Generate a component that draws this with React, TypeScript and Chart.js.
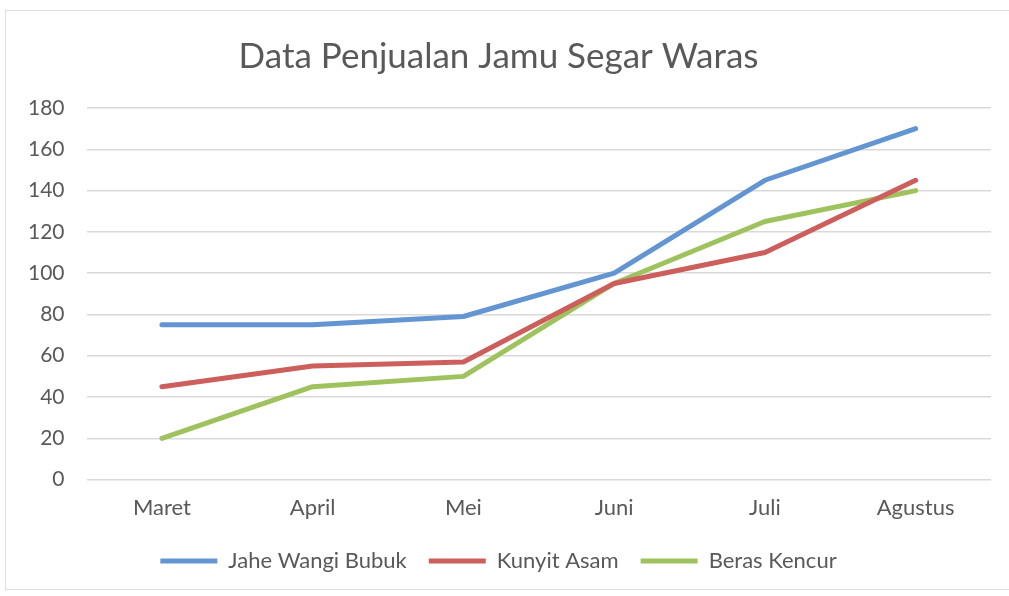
import React, { useEffect, useRef } from "react";
import { Chart, registerables } from "chart.js";

Chart.register(...registerables);

const months = ["Maret", "April", "Mei", "Juni", "Juli", "Agustus"];
const jaheWangiBubuk = [75, 75, 79, 100, 145, 170];
const kunyitAsam = [45, 55, 57, 95, 110, 145];
const berasKencur = [20, 45, 50, 95, 125, 140];
const yTicks = [0, 20, 40, 60, 80, 100, 120, 140, 160, 180];

const FONT = "Lato, 'Open Sans', sans-serif";

export default function App() {
  const ref = useRef<HTMLCanvasElement>(null);
  useEffect(() => {
    document.body.style.margin = "0";
    const ctx = ref.current!;
    const chart = new Chart(ctx, {
      type: "line",
      data: {
        labels: months,
        datasets: [
          { label: "Jahe Wangi Bubuk", data: jaheWangiBubuk, borderColor: "#6395d2", backgroundColor: "#6395d2" },
          { label: "Kunyit Asam", data: kunyitAsam, borderColor: "#cc5f5c", backgroundColor: "#cc5f5c" },
          { label: "Beras Kencur", data: berasKencur, borderColor: "#9ec25e", backgroundColor: "#9ec25e" },
        ].map((d) => ({ ...d, borderWidth: 5, pointRadius: 0, tension: 0, borderCapStyle: "round" as const, borderJoinStyle: "round" as const })),
      },
      options: {
        animation: false,
        responsive: false,
        layout: { padding: { left: 6, right: 18, top: 22, bottom: 14 } },
        plugins: {
          title: {
            display: true,
            text: "Data Penjualan Jamu Segar Waras",
            color: "#595959",
            font: { family: FONT, size: 35, weight: "normal" },
            padding: { top: 14, bottom: 30 },
          },
          legend: {
            position: "bottom",
            labels: {
              color: "#595959",
              font: { family: FONT, size: 22 },
              boxWidth: 57,
              boxHeight: 5,
              padding: 22,
              generateLabels: (c) =>
                c.data.datasets.map((ds, i) => ({
                  text: ds.label as string,
                  fillStyle: ds.borderColor as string,
                  strokeStyle: ds.borderColor as string,
                  lineWidth: 0,
                  datasetIndex: i,
                  fontColor: "#595959",
                })),
            },
          },
          tooltip: { enabled: false },
        },
        scales: {
          x: {
            offset: true,
            grid: { display: false },
            border: { display: false },
            ticks: { color: "#595959", font: { family: FONT, size: 22 }, padding: 7, maxRotation: 0 },
          },
          y: {
            min: 0,
            max: 180,
            afterBuildTicks: (axis) => {
              axis.ticks = yTicks.map((v) => ({ value: v }));
            },
            grid: { color: "#d9d9d9", lineWidth: 1.5, drawTicks: false },
            border: { display: false },
            ticks: { color: "#595959", font: { family: FONT, size: 21 }, padding: 22 },
          },
        },
      },
    });
    return () => chart.destroy();
  }, []);
  return (
    <div style={{ position: "relative", width: 1009, height: 596, background: "#ffffff" }}>
      <div style={{ position: "absolute", left: 5, top: 10, width: 1010, height: 580, border: "1.5px solid #e0e0e0", boxSizing: "border-box" }} />
      <canvas ref={ref} width={1009} height={596} style={{ position: "absolute", left: 0, top: 0 }} />
    </div>
  );
}
